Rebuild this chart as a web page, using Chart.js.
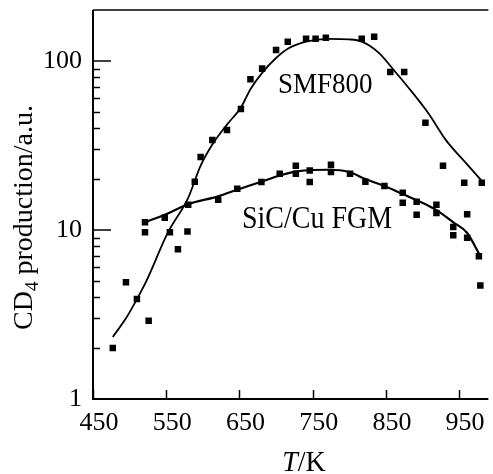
<!DOCTYPE html>
<html><head><meta charset="utf-8">
<script src="https://cdn.jsdelivr.net/npm/chart.js@4.4.0/dist/chart.umd.min.js"></script>
<style>html,body{margin:0;padding:0;background:#fff}#wrap{width:493px;height:474px}</style>
</head><body><div id="wrap"><canvas id="c" width="493" height="474"></canvas></div>
<script>
// ---- data ----
const smfPointT = [477, 495, 510, 526, 555, 566, 579, 589, 597, 613, 633, 652, 665, 681, 700, 716, 741, 754, 768, 817, 834, 856, 875, 904, 928, 957, 961, 979, 981];
const smfPointV = [2.0, 4.9, 3.9, 2.9, 9.7, 7.7, 9.8, 19.3, 27, 34, 39, 52, 78, 90, 116, 130, 135, 135, 137, 135, 139, 86, 86, 43, 24, 19, 12.4, 4.7, 19];
const sicPointT = [521, 521, 548, 580, 621, 647, 680, 705, 727, 727, 746, 746, 775, 775, 801, 822, 848, 873, 873, 892, 892, 919, 919, 942, 942, 961, 977];
const sicPointV = [11.1, 9.7, 11.8, 14.1, 15.1, 17.5, 19.2, 21.5, 24, 21.5, 22.5, 19.2, 24.3, 22, 21.5, 19.3, 18.2, 16.6, 14.5, 14.7, 12.3, 14.1, 12.6, 10.4, 9.3, 9.0, 7.0];
const smfCurveT = [477, 495, 510, 523, 552, 580, 597, 613, 633, 652, 665, 681, 700, 716, 741, 772, 800, 817, 840, 863, 885, 908, 932, 957, 981];
const smfCurveV = [2.33, 3.0, 3.9, 5.0, 9.6, 15.5, 24, 32, 42, 53, 68, 85, 104, 118, 130, 135, 134, 130, 112, 86, 66, 49, 34, 25.5, 19.5];
const sicCurveT = [521, 548, 580, 621, 647, 680, 705, 731, 772, 800, 822, 848, 873, 895, 919, 942, 961, 979];
const sicCurveV = [11.1, 12.3, 14.2, 15.8, 17.3, 19.3, 21, 22.3, 22.7, 22, 20, 18.2, 16.3, 14.8, 13.1, 11.1, 9.6, 7.0];
const xTickLabels = [450, 550, 650, 750, 850, 950];
const yTickLabels = [1, 10, 100];
const yMinorTicks = [2, 3, 4, 5, 6, 7, 8, 9, 20, 30, 40, 50, 60, 70, 80, 90];
const xRange = [450, 990];
const yRange = [1, 200];
const seriesLabels = ['SMF800', 'SiC/Cu FGM'];
const xTitle = ['T', '/K'];
const yTitle = ['CD', '4', ' production/a.u.'];

const toXY = (T, V) => T.map((t, i) => ({x: t, y: V[i]}));
const SERIF = '"Liberation Serif", "DejaVu Serif", serif';

function stretchedText(ctx, txt, x, y, sy) {
  ctx.save(); ctx.translate(x, y); ctx.scale(1, sy); ctx.fillText(txt, 0, 0); ctx.restore();
}

const decor = {
  id: 'decor',
  afterDatasetsDraw(chart) {
    const ctx = chart.ctx, a = chart.chartArea;
    const xs = chart.scales.x, ys = chart.scales.y;
    ctx.save();
    ctx.strokeStyle = '#000'; ctx.fillStyle = '#000';
    ctx.lineWidth = 2;
    ctx.beginPath();
    ctx.moveTo(a.left, a.top); ctx.lineTo(a.left, a.bottom); ctx.lineTo(a.right, a.bottom);
    ctx.stroke();
    ctx.lineWidth = 1.5;
    ctx.beginPath(); ctx.moveTo(a.left, a.top); ctx.lineTo(a.right, a.top); ctx.stroke();
    ctx.lineWidth = 1.5;
    yTickLabels.forEach(v => {
      const y = Math.round(ys.getPixelForValue(v));
      ctx.beginPath(); ctx.moveTo(a.left, y); ctx.lineTo(a.left + 18, y); ctx.stroke();
    });
    yMinorTicks.forEach(v => {
      const y = Math.round(ys.getPixelForValue(v)) + 0.5;
      ctx.beginPath(); ctx.moveTo(a.left, y); ctx.lineTo(a.left + 7, y); ctx.stroke();
    });
    xTickLabels.forEach(v => {
      const x = Math.round(xs.getPixelForValue(v)) + 0.5;
      ctx.beginPath(); ctx.moveTo(x, a.bottom); ctx.lineTo(x, a.bottom - 9); ctx.stroke();
    });
    ctx.textAlign = 'left'; ctx.textBaseline = 'alphabetic';
    ctx.font = '27px ' + SERIF;
    stretchedText(ctx, seriesLabels[0], 278, 93, 1.12);
    ctx.font = '28px ' + SERIF;
    stretchedText(ctx, seriesLabels[1], 242, 228, 1.1);
    ctx.font = 'italic 28px ' + SERIF;
    const wT = ctx.measureText(xTitle[0]).width;
    ctx.font = '28px ' + SERIF;
    const wK = ctx.measureText(xTitle[1]).width;
    let x0 = 304 - (wT + wK) / 2;
    ctx.font = 'italic 28px ' + SERIF;
    stretchedText(ctx, xTitle[0], x0, 471, 1.08);
    ctx.font = '28px ' + SERIF;
    stretchedText(ctx, xTitle[1], x0 + wT, 471, 1.08);
    ctx.translate(32, 217.5);
    ctx.rotate(-Math.PI / 2);
    ctx.font = '28px ' + SERIF;
    const w1 = ctx.measureText(yTitle[0]).width;
    const w3 = ctx.measureText(yTitle[2]).width;
    ctx.font = '19px ' + SERIF;
    const w2 = ctx.measureText(yTitle[1]).width;
    let s = -(w1 + w2 + w3) / 2;
    ctx.font = '28px ' + SERIF;
    ctx.fillText(yTitle[0], s, 0);
    ctx.font = '19px ' + SERIF;
    ctx.fillText(yTitle[1], s + w1, 6);
    ctx.font = '28px ' + SERIF;
    ctx.fillText(yTitle[2], s + w1 + w2, 0);
    ctx.restore();
  }
};

new Chart(document.getElementById('c'), {
  type: 'scatter',
  data: {
    datasets: [
      {label: 'SMF800 fit', data: toXY(smfCurveT, smfCurveV), showLine: true, pointRadius: 0,
       borderColor: '#000', borderWidth: 1.8, cubicInterpolationMode: 'monotone', fill: false},
      {label: 'SiC/Cu FGM fit', data: toXY(sicCurveT, sicCurveV), showLine: true, pointRadius: 0,
       borderColor: '#000', borderWidth: 2.2, cubicInterpolationMode: 'monotone', fill: false},
      {label: 'SMF800', data: toXY(smfPointT, smfPointV), pointStyle: 'rect', pointRadius: 4.6,
       backgroundColor: '#000', borderWidth: 0},
      {label: 'SiC/Cu FGM', data: toXY(sicPointT, sicPointV), pointStyle: 'rect', pointRadius: 4.6,
       backgroundColor: '#000', borderWidth: 0}
    ]
  },
  options: {
    responsive: false, animation: false, devicePixelRatio: 1,
    layout: {padding: {top: 10, right: 3, left: 0, bottom: 0}},
    plugins: {legend: {display: false}, tooltip: {enabled: false}},
    scales: {
      x: {
        type: 'linear', min: xRange[0], max: xRange[1],
        afterBuildTicks: s => { s.ticks = xTickLabels.map(v => ({value: v})); },
        afterFit: s => { s.height = 75; s.paddingLeft = 0; s.paddingRight = 0; },
        grid: {display: false, drawTicks: false}, border: {display: false},
        ticks: {color: '#000', font: {family: SERIF, size: 26}, padding: 9, labelOffset: 6, maxRotation: 0,
                callback: v => String(v)}
      },
      y: {
        type: 'logarithmic', min: yRange[0], max: yRange[1],
        afterBuildTicks: s => { s.ticks = yTickLabels.map(v => ({value: v})); },
        afterFit: s => { s.width = 93; s.paddingTop = 0; s.paddingBottom = 0; },
        grid: {display: false, drawTicks: false}, border: {display: false},
        ticks: {color: '#000', font: {family: SERIF, size: 26}, padding: 11,
                callback: v => String(v)}
      }
    }
  },
  plugins: [decor]
});
</script>
</body></html>
